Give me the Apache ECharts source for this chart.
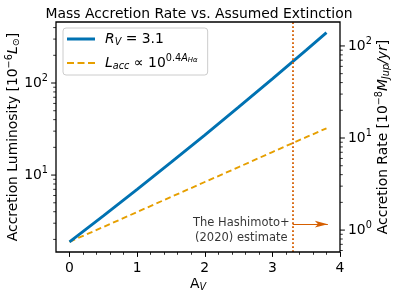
<!DOCTYPE html>
<html><head><meta charset="utf-8">
<script src="https://cdn.jsdelivr.net/npm/echarts@6/dist/echarts.min.js"></script>
<style>html,body{margin:0;padding:0;background:#fff}#c{width:398px;height:296px}</style>
</head><body><div id="c"></div>
<script>
const avValues = [0, 0.5, 1, 1.5, 2, 2.5, 3, 3.5, 3.8];
const lumRv31 = [1.884, 3.61, 7.00, 13.72, 27.2, 54.6, 110.9, 227.8, 353];
const lumSimple = [1.884, 2.73, 3.97, 5.78, 8.41, 12.2, 17.8, 25.8, 32.2];
const xMajorTicks = [0, 1, 2, 3, 4];
const xMinorTicks = [0.2,0.4,0.6,0.8,1.2,1.4,1.6,1.8,2.2,2.4,2.6,2.8,3.2,3.4,3.6,3.8];
const leftMajorTicks = [10, 100];
const leftMinorTicks = [2,3,4,5,6,7,8,9,20,30,40,50,60,70,80,90,200,300,400];
const rightMajorTicks = [1, 10, 100];
const rightMinorTicks = [0.6,0.7,0.8,0.9,2,3,4,5,6,7,8,9,20,30,40,50,60,70,80,90];
const hashimotoAv = 3.3;
const arrowY = 2.93, arrowEndX = 3.82;
const noteX = 2.54, noteY = 2.52;
const leftRange = [1.46, 460];
const rightRange = [0.578, 182];

const FONT = 'DejaVu Sans';
const FS = 13.9, SS = 9.7;
const BLUE = '#0072B2', ORANGE = '#E69F00', VERM = '#D55E00';
const GL = 56, GR = 58, GT = 22, GB = 44, W = 398, H = 296;
const supRich = {
  b: {fontFamily: FONT, fontSize: FS, color: '#000'},
  s: {fontFamily: FONT, fontSize: SS, color: '#000', padding: [0, 0, 9, 0]}
};
const powFmt = v => '{b|10}{s|' + Math.round(Math.log10(v)) + '}';

function logAxis(pos, range, major, withName) {
  return Object.assign({
    type: 'log', position: pos, min: range[0], max: range[1], logBase: 10,
    splitLine: {show: false}, minorTick: {show: false}, minorSplitLine: {show: false},
    axisLine: {show: false, onZero: false},
    axisTick: {show: false},
    axisLabel: {show: true, margin: 8, customValues: major, formatter: powFmt, rich: supRich, color: '#000'},
    nameMoveOverlap: false
  }, withName);
}

const nameRich = {
  n: {fontFamily: FONT, fontSize: FS, color: '#000'},
  i: {fontFamily: FONT, fontSize: FS, fontStyle: 'italic', color: '#000'},
  s: {fontFamily: FONT, fontSize: SS, color: '#000', padding: [0, 0, 9, 0]},
  sub: {fontFamily: FONT, fontSize: SS, color: '#000', padding: [6, 0, 0, 0]},
  subi: {fontFamily: FONT, fontSize: SS, fontStyle: 'italic', color: '#000', padding: [6, 0, 0, 0]}
};

const yAxes = [
  logAxis('left', leftRange, leftMajorTicks, {
    name: '{n|Accretion Luminosity [10}{s|−6}{i|L}{sub|⊙}{n|]}',
    nameLocation: 'middle', nameRotate: 90, nameGap: 33,
    nameTextStyle: {rich: nameRich}
  }),
  logAxis('right', rightRange, rightMajorTicks, {
    name: '{n|Accretion Rate [10}{s|−8}{i|M}{subi|Jup}{i|/yr}{n|]}',
    nameLocation: 'middle', nameRotate: 90, nameGap: 34,
    nameTextStyle: {rich: nameRich}
  })
];

const xAxes = [
  {type: 'value', position: 'bottom', min: -0.2, max: 4, splitLine: {show: false},
   axisLine: {show: false, onZero: false},
   axisTick: {show: true, length: 4.9, lineStyle: {color: '#000', width: 1}, customValues: xMajorTicks},
   axisLabel: {customValues: xMajorTicks, fontFamily: FONT, fontSize: FS, color: '#000', margin: 9},
   nameMoveOverlap: false,
   name: '{a|A}{v|V}', nameLocation: 'middle', nameGap: 24,
   nameTextStyle: {rich: {a: {fontFamily: FONT, fontSize: FS, color: '#000'}, v: {fontFamily: FONT, fontSize: SS, fontStyle: 'italic', color: '#000', padding: [6, 0, 0, 0]}}}},
  {type: 'value', position: 'bottom', min: -0.2, max: 4, splitLine: {show: false},
   axisLine: {show: false, onZero: false},
   axisTick: {show: true, length: 2.8, lineStyle: {color: '#000', width: 0.8}, customValues: xMinorTicks},
   axisLabel: {show: false}}
];

const legendRich = {
  g: {width: 5},
  n: {fontFamily: FONT, fontSize: FS, color: '#000'},
  i: {fontFamily: FONT, fontSize: FS, fontStyle: 'italic', color: '#000'},
  sub: {fontFamily: FONT, fontSize: SS, fontStyle: 'italic', color: '#000', padding: [6, 0, 0, 0]},
  sup: {fontFamily: FONT, fontSize: SS, color: '#000', padding: [0, 0, 10, 0]},
  supi: {fontFamily: FONT, fontSize: SS, fontStyle: 'italic', color: '#000', padding: [0, 0, 10, 0]},
  supsub: {fontFamily: FONT, fontSize: 7, fontStyle: 'italic', color: '#000', padding: [0, 0, 5, 0]}
};
const solidIcon = 'path://M0,0h0.01v0.01h-0.01z M0,4.6h28v2.8h-28z M27.99,11.99h0.01v0.01h-0.01z';
const dashedIcon = 'path://M0,0h0.01v0.01h-0.01z M0,5h7v2h-7z M10.5,5h7v2h-7z M21,5h7v2h-7z M27.99,11.99h0.01v0.01h-0.01z';

const chart = echarts.init(document.getElementById('c'), null, {renderer: 'canvas'});
chart.setOption({
  animation: false,
  backgroundColor: '#fff',
  title: {text: 'Mass Accretion Rate vs. Assumed Extinction', left: 'center', top: 2,
    textStyle: {fontFamily: FONT, fontSize: FS, fontWeight: 'normal', color: '#000'}},
  grid: {left: GL, right: GR, top: GT, bottom: GB, containLabel: false, outerBoundsMode: 'none',
    show: true, borderColor: '#000', borderWidth: 1.3, backgroundColor: 'transparent', z: 10},
  legend: {
    left: 63, top: 28, orient: 'vertical', itemWidth: 28, itemHeight: 12, itemGap: 6,
    padding: [4, 10, 4, 4], backgroundColor: 'rgba(255,255,255,0.8)', borderColor: '#ccc', borderWidth: 1, borderRadius: 3,
    textStyle: {rich: legendRich},
    formatter: name => name === 'rv' ? '{g|}{i|R}{sub|V}{n| = 3.1}' : '{g|}{i|L}{sub|acc}{n| ∝ 10}{sup|0.4}{supi|A}{supsub|Hα}',
    data: [{name: 'rv', icon: solidIcon}, {name: 'simple', icon: dashedIcon}]
  },
  xAxis: xAxes,
  yAxis: yAxes,
  series: [
    {name: 'rv', type: 'line', xAxisIndex: 0, yAxisIndex: 0, showSymbol: false, symbol: 'none',
     data: avValues.map((x, i) => [x, lumRv31[i]]), lineStyle: {color: BLUE, width: 2.9}, itemStyle: {color: BLUE}, z: 3},
    {name: 'simple', type: 'line', xAxisIndex: 0, yAxisIndex: 0, showSymbol: false, symbol: 'none',
     data: avValues.map((x, i) => [x, lumSimple[i]]), lineStyle: {color: ORANGE, width: 1.9, type: [6, 3.5]}, itemStyle: {color: ORANGE}, z: 2,
     markLine: {silent: true, symbol: 'none', animation: false, label: {show: false},
       data: [
         {xAxis: hashimotoAv, lineStyle: {color: VERM, width: 1.8, type: [1.8, 2.2]}},
         [{coord: [hashimotoAv, arrowY], symbol: 'none', lineStyle: {color: VERM, width: 1.2, type: 'solid'}},
          {coord: [arrowEndX, arrowY], symbol: 'arrow', symbolSize: [5, 13]}]
       ]}},
    {name: 'note', type: 'scatter', xAxisIndex: 0, yAxisIndex: 0, symbolSize: 0, silent: true,
     data: [[noteX, noteY]],
     label: {show: true, position: 'inside', formatter: 'The Hashimoto+\n(2020) estimate', fontFamily: FONT, fontSize: 11.5, lineHeight: 15, color: '#000', align: 'center'}}
  ]
});

// y-axis tick marks, positioned through the log axes' own scales
const tickEls = [];
function addTicks(axisIndex, values, xEdge, dir, len, width) {
  values.forEach(v => {
    const y = chart.convertToPixel({yAxisIndex: axisIndex}, v);
    tickEls.push({type: 'line', silent: true, z: 20,
      shape: {x1: xEdge, y1: y, x2: xEdge + dir * len, y2: y},
      style: {stroke: '#000', lineWidth: width}});
  });
}
addTicks(0, leftMajorTicks, GL, -1, 4.9, 1);
addTicks(0, leftMinorTicks, GL, -1, 2.8, 0.8);
addTicks(1, rightMajorTicks, W - GR, 1, 4.9, 1);
addTicks(1, rightMinorTicks, W - GR, 1, 2.8, 0.8);
chart.setOption({graphic: tickEls});
</script></body></html>
